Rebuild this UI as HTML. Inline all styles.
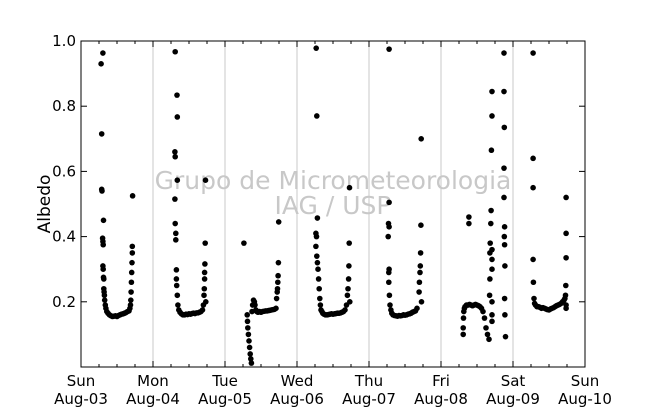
<!DOCTYPE html>
<html><head><meta charset="utf-8"><style>
body{margin:0;background:#fff;}
svg{display:block;font-family:"DejaVu Sans","Liberation Sans",sans-serif;}
</style></head><body>
<svg id="chart" width="650" height="409" viewBox="0 0 650 409">
<rect x="0" y="0" width="650" height="409" fill="#fff"/>
<g id="grid"></g>
<text x="333" y="189" text-anchor="middle" font-size="25" fill="#c8c8c8">Grupo de Micrometeorologia</text>
<text x="333" y="214" text-anchor="middle" font-size="25" fill="#c8c8c8">IAG / USP</text>
<g id="points"></g>
<rect x="81" y="41" width="504" height="326" fill="none" stroke="#000" stroke-width="1"/>
<g id="axes"></g>
<text transform="translate(50,204) rotate(-90)" text-anchor="middle" font-size="17">Albedo</text>
</svg>
<script>
const dayLabels=["Sun","Mon","Tue","Wed","Thu","Fri","Sat","Sun"];
const dateLabels=["Aug-03","Aug-04","Aug-05","Aug-06","Aug-07","Aug-08","Aug-09","Aug-10"];
const yTicks=[0.2,0.4,0.6,0.8,1.0];
const yTickLabels=["0.2","0.4","0.6","0.8","1.0"];
// hours since Aug-03 00:00
const hours=[
// day1
6.7,7.3,6.9,6.9,7.0,7.5,7.2,7.3,7.4,7.3,7.4,7.5,7.6,7.6,7.7,7.8,7.9,8.1,8.3,8.6,9,9.5,10,10.5,11,11.5,12,12.5,13,13.5,14,14.5,15,15.5,16,16.3,16.5,16.6,16.7,16.8,16.9,17,17.1,17.1,17.2,
// day2
31.4,32.0,32.1,31.3,31.4,32.1,31.3,31.4,31.6,31.6,31.8,31.8,31.9,32.1,32.3,32.6,33,33.5,34,34.5,35,35.5,36,36.5,37,37.5,38,38.5,39,39.5,40,40.5,40.8,41.0,41.1,41.2,41.2,41.3,41.4,41.5,41.6,
// day3
54.3,55.4,55.5,55.6,55.8,56.0,56.2,56.4,56.6,56.8,57.0,57.2,57.5,57.8,58.0,58.3,58.6,59.0,59.5,60,60.5,61,61.5,62,62.5,63,63.5,64,64.5,65,65.2,65.4,65.5,65.6,65.7,65.8,65.9,
// day4
78.4,78.6,78.8,78.3,78.5,78.3,78.6,78.8,79.0,79.2,79.4,79.6,79.8,80,80.3,80.6,81,81.5,82,82.5,83,83.5,84,84.5,85,85.5,86,86.5,87,87.5,88,88.5,88.8,89.0,89.2,89.3,89.4,89.5,89.6,
// day5
102.7,102.7,102.5,102.7,102.4,102.7,102.6,102.6,102.8,103.0,103.3,103.6,104,104.5,105,105.5,106,106.5,107,107.5,108,108.5,109,109.5,110,110.5,111,111.5,112,112.7,112.8,113.0,113.1,113.2,113.3,113.4,113.5,
// day6
127.4,127.4,127.5,127.6,127.8,128,128.5,129,129.5,130,130.5,131,131.5,132,132.5,133,133.5,134,134.5,135,135.5,136,129.3,129.3,136.2,136.3,136.3,136.4,136.6,136.7,136.8,137.0,137.0,137.0,137.0,137.0,137.0,137.0,137.0,
141.0,141.0,141.1,141.0,141.0,141.2,141.1,141.2,141.3,141.2,141.3,141.5,
// day7
150.7,150.7,150.7,150.7,150.8,151,151.2,151.5,152,152.5,153,153.5,154,154.5,155,155.5,156,156.5,157,157.5,158,158.5,159,159.5,160,160.5,161,161.3,161.5,161.6,161.7,161.7,161.7,161.7,161.7
];
const albedo=[
// day1
0.93,0.963,0.715,0.545,0.54,0.45,0.395,0.385,0.375,0.31,0.30,0.275,0.27,0.24,0.23,0.22,0.205,0.19,0.18,0.17,0.165,0.16,0.157,0.155,0.156,0.157,0.155,0.158,0.16,0.162,0.163,0.165,0.167,0.17,0.172,0.18,0.19,0.205,0.23,0.26,0.29,0.32,0.35,0.37,0.525,
// day2
0.967,0.834,0.767,0.66,0.645,0.573,0.515,0.44,0.41,0.39,0.298,0.27,0.25,0.22,0.19,0.175,0.168,0.163,0.16,0.16,0.162,0.161,0.163,0.162,0.164,0.165,0.164,0.166,0.166,0.168,0.17,0.175,0.19,0.22,0.24,0.27,0.29,0.316,0.38,0.573,0.20,
// day3
0.38,0.16,0.14,0.12,0.10,0.08,0.06,0.04,0.025,0.012,0.17,0.19,0.205,0.20,0.19,0.175,0.17,0.168,0.17,0.168,0.17,0.171,0.172,0.172,0.173,0.174,0.175,0.176,0.177,0.18,0.21,0.23,0.24,0.26,0.28,0.32,0.445,
// day4
0.978,0.77,0.457,0.41,0.40,0.37,0.34,0.32,0.30,0.27,0.24,0.21,0.19,0.175,0.17,0.165,0.162,0.16,0.16,0.161,0.162,0.163,0.162,0.163,0.164,0.165,0.165,0.166,0.168,0.17,0.175,0.19,0.22,0.24,0.27,0.31,0.38,0.55,0.20,
// day5
0.975,0.505,0.44,0.43,0.40,0.30,0.29,0.26,0.22,0.19,0.175,0.165,0.16,0.158,0.157,0.156,0.158,0.157,0.158,0.16,0.159,0.16,0.162,0.163,0.165,0.168,0.17,0.172,0.18,0.23,0.26,0.29,0.31,0.35,0.435,0.70,0.20,
// day6
0.10,0.12,0.15,0.17,0.18,0.185,0.19,0.19,0.192,0.19,0.188,0.19,0.192,0.19,0.188,0.185,0.18,0.17,0.15,0.12,0.10,0.085,0.46,0.44,0.22,0.27,0.35,0.38,0.44,0.48,0.665,0.77,0.845,0.30,0.20,0.16,0.14,0.33,0.36,
0.963,0.845,0.735,0.61,0.52,0.43,0.40,0.375,0.31,0.21,0.16,0.093,
// day7
0.963,0.64,0.55,0.33,0.26,0.21,0.195,0.19,0.185,0.185,0.183,0.18,0.182,0.18,0.178,0.176,0.175,0.178,0.18,0.182,0.185,0.188,0.19,0.192,0.195,0.2,0.205,0.21,0.22,0.25,0.335,0.41,0.52,0.19,0.18
];
const NS="http://www.w3.org/2000/svg";
const X0=81,X1=585,Y0=367,Y1=41,HMAX=168;
const xs=h=>X0+(h/HMAX)*(X1-X0);
const ys=v=>Y0-v*(Y0-Y1);
function mk(t,a){const e=document.createElementNS(NS,t);for(const k in a)e.setAttribute(k,a[k]);return e;}
const grid=document.getElementById('grid'),axes=document.getElementById('axes'),pts=document.getElementById('points');
for(let d=1;d<7;d++){
  const l=mk('line',{x1:xs(d*24),x2:xs(d*24),y1:Y1,y2:Y0,stroke:'#c8c8c8','stroke-width':1});
  
  
  grid.appendChild(l);
}
for(let h=0;h<=HMAX;h+=6){
  const x=xs(h),len=(h%24===0)?6:3;
  const t1=mk('line',{x1:x,x2:x,y1:Y0,y2:Y0-len,stroke:'#000'});
  
  
  axes.appendChild(t1);
  const t2=mk('line',{x1:x,x2:x,y1:Y1,y2:Y1+len,stroke:'#000'});
  
  
  axes.appendChild(t2);
}
dayLabels.forEach((d,i)=>{
  const x=xs(i*24);
  const a=mk('text',{x:x,y:386,'text-anchor':'middle','font-size':15});a.textContent=d;
  
  
  axes.appendChild(a);
  const b=mk('text',{x:x,y:404,'text-anchor':'middle','font-size':15});b.textContent=dateLabels[i];
  
  
  axes.appendChild(b);
});
yTicks.forEach((v,i)=>{
  const y=ys(v);
  const t=mk('line',{x1:X0,x2:X0+6,y1:y,y2:y,stroke:'#000'});
  
  
  axes.appendChild(t);
  const t2=mk('line',{x1:X1,x2:X1-6,y1:y,y2:y,stroke:'#000'});
  
  
  axes.appendChild(t2);
  const lb=mk('text',{x:76,y:y+5,'text-anchor':'end','font-size':15});lb.textContent=yTickLabels[i];
  
  
  axes.appendChild(lb);
});
hours.forEach((h,i)=>{
  const c=mk('circle',{cx:xs(h),cy:ys(albedo[i]),r:2.8,fill:'#000'});
  
  
  pts.appendChild(c);
});
</script>
</body></html>
